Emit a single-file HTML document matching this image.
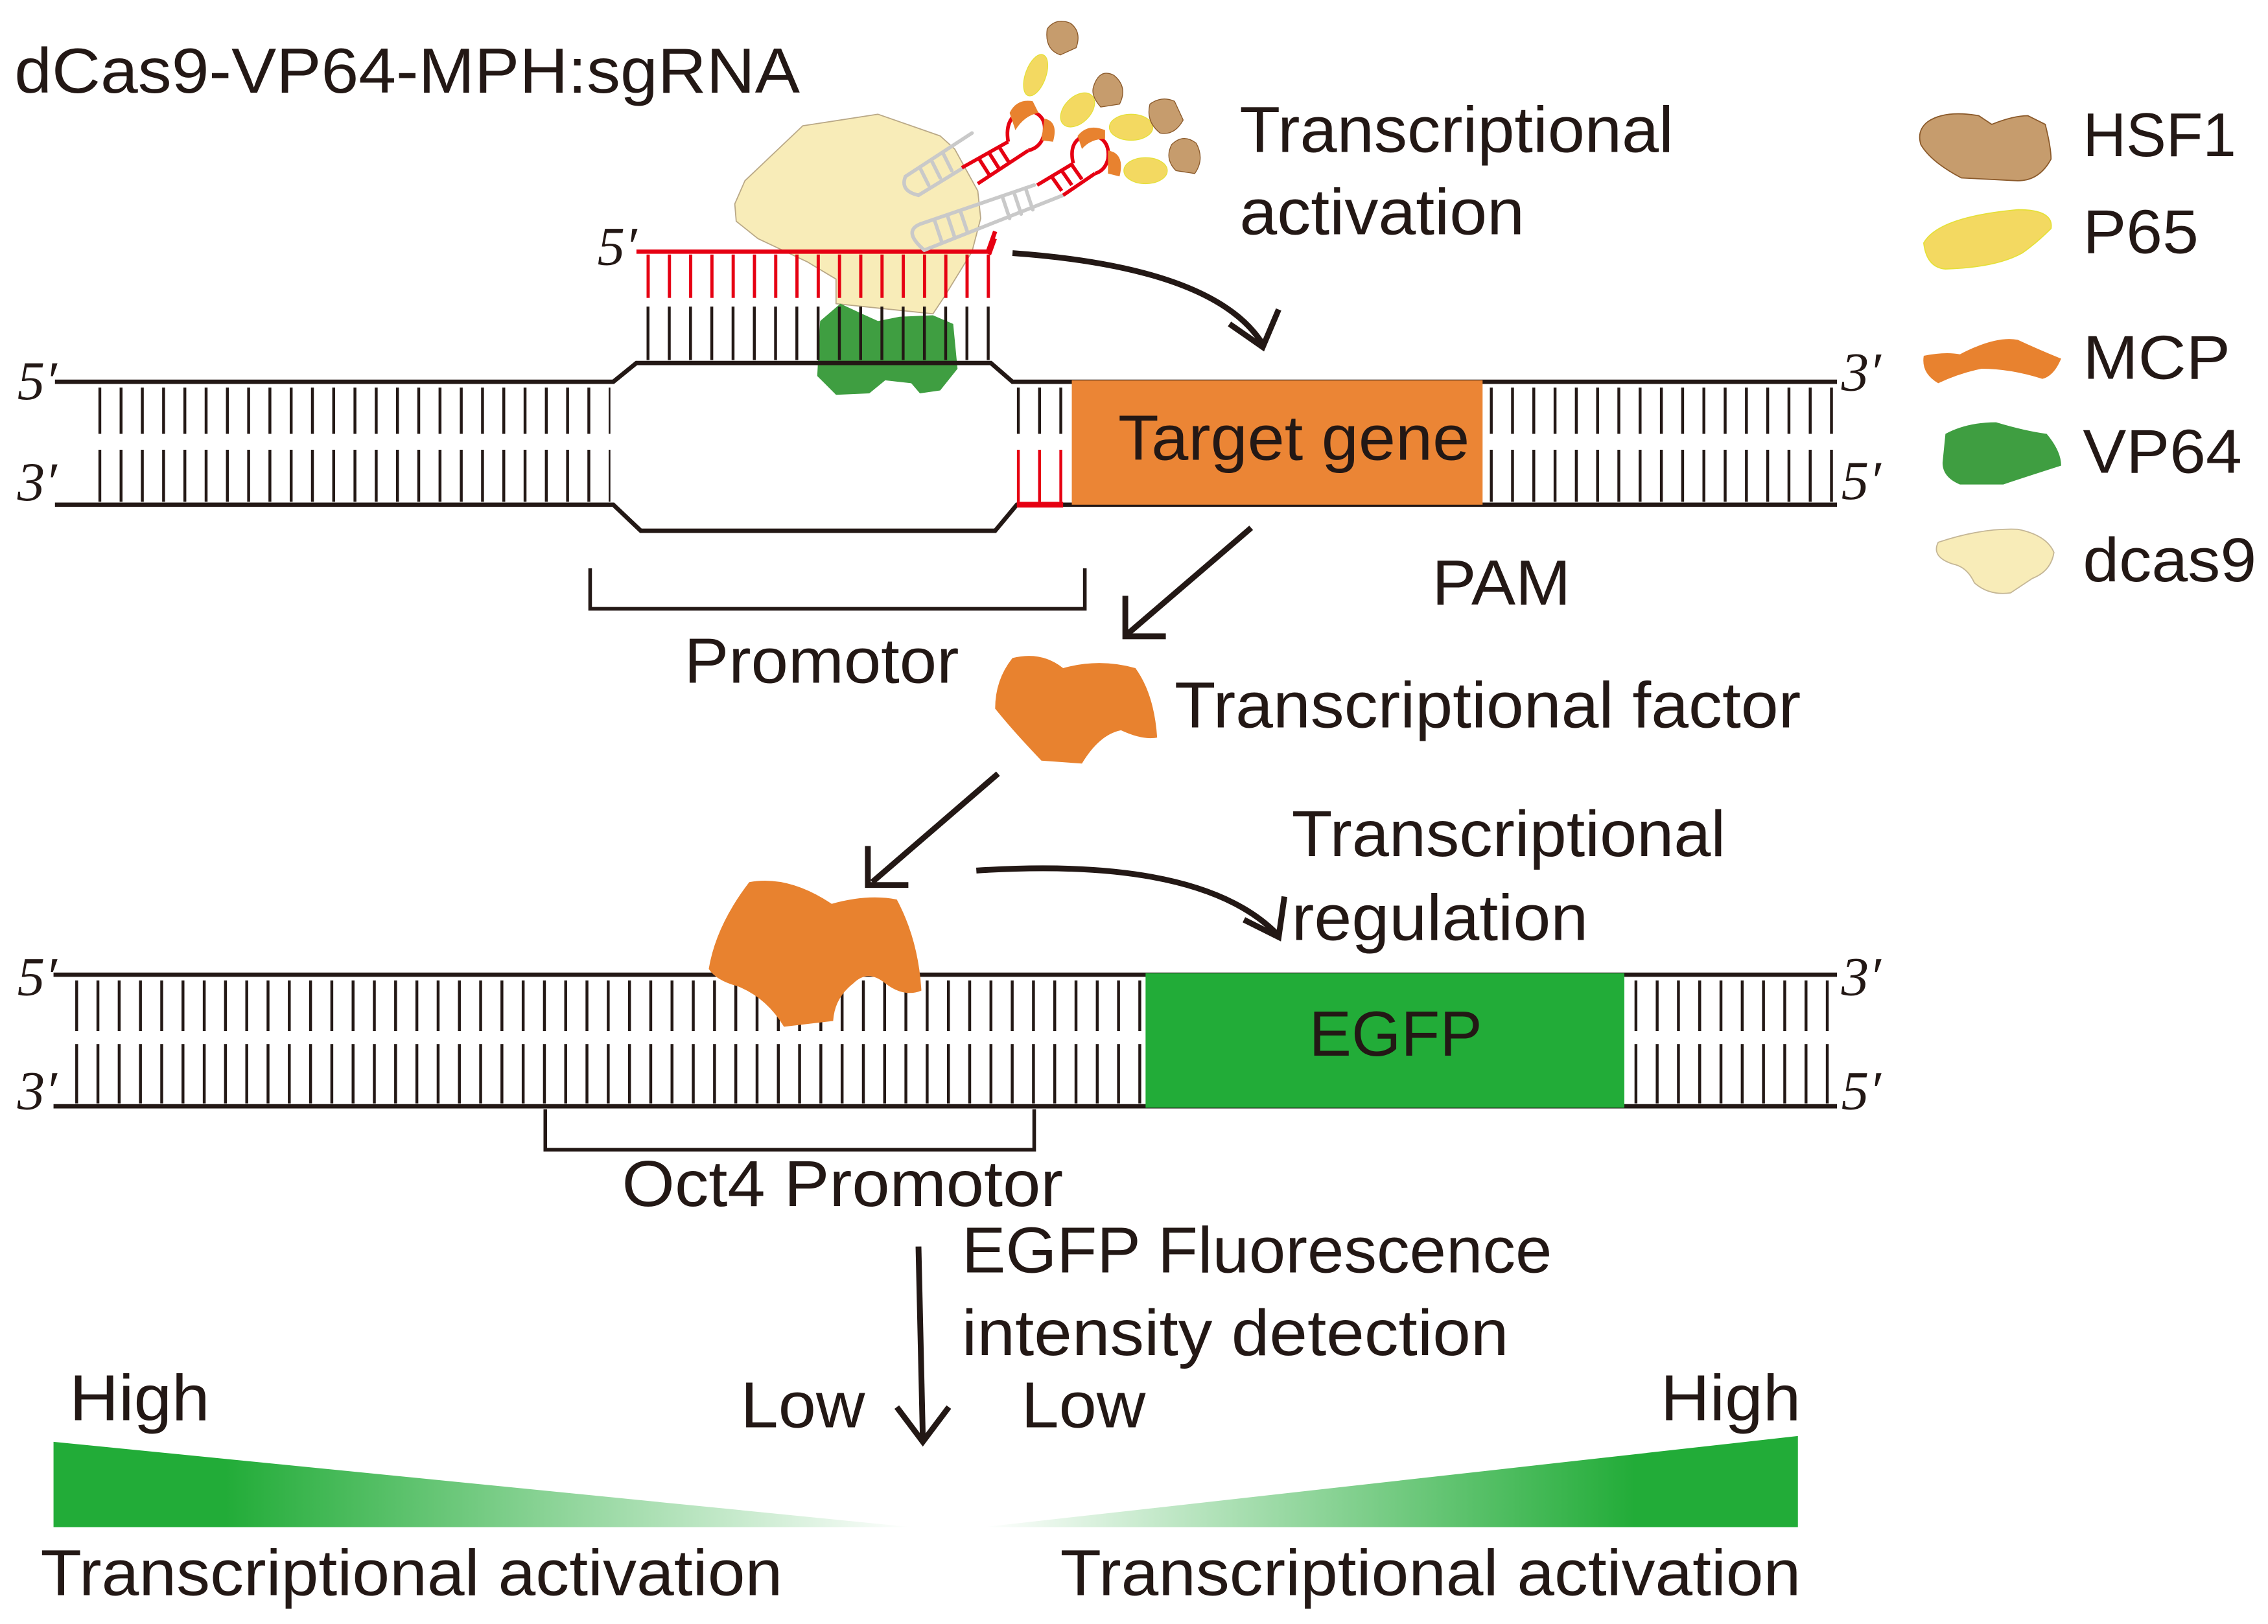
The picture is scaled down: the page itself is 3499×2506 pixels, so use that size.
<!DOCTYPE html>
<html><head><meta charset="utf-8"><style>
html,body{margin:0;padding:0;background:#fff}
svg{display:block}
text{font-family:"Liberation Sans",sans-serif;fill:#231815}
.s{font-family:"Liberation Serif",serif;font-style:italic}
</style></head><body>
<svg width="3499" height="2506" viewBox="0 0 1568 1123" xmlns="http://www.w3.org/2000/svg">
<defs>
<pattern id="rk" x="68" y="0" width="14.7" height="10" patternUnits="userSpaceOnUse"><rect x="0" y="0" width="2" height="10" fill="#231815"/></pattern>
<pattern id="rk2" x="447" y="0" width="14.7" height="10" patternUnits="userSpaceOnUse"><rect x="0" y="0" width="2" height="10" fill="#231815"/></pattern>
<pattern id="rr2" x="447" y="0" width="14.7" height="10" patternUnits="userSpaceOnUse"><rect x="0" y="0" width="2.2" height="10" fill="#e60012"/></pattern>
<pattern id="rs" x="703" y="0" width="14.7" height="10" patternUnits="userSpaceOnUse"><rect x="0" y="0" width="2" height="10" fill="#231815"/></pattern>
<pattern id="rsr" x="703" y="0" width="14.7" height="10" patternUnits="userSpaceOnUse"><rect x="0" y="0" width="2" height="10" fill="#e60012"/></pattern>
<pattern id="rr" x="1030" y="0" width="14.7" height="10" patternUnits="userSpaceOnUse"><rect x="0" y="0" width="2" height="10" fill="#231815"/></pattern>
<pattern id="rb" x="52" y="0" width="14.7" height="10" patternUnits="userSpaceOnUse"><rect x="0" y="0" width="2" height="10" fill="#231815"/></pattern>
<pattern id="rb2" x="1130" y="0" width="14.7" height="10" patternUnits="userSpaceOnUse"><rect x="0" y="0" width="2" height="10" fill="#231815"/></pattern>
<linearGradient id="gl" x1="0" x2="1" y1="0" y2="0"><stop offset="0" stop-color="#22ac38"/><stop offset="0.2" stop-color="#22ac38"/><stop offset="1" stop-color="#fff"/></linearGradient>
<linearGradient id="gr" x1="0" x2="1" y1="0" y2="0"><stop offset="0" stop-color="#fff"/><stop offset="0.8" stop-color="#22ac38"/><stop offset="1" stop-color="#22ac38"/></linearGradient>
</defs>

<!-- title -->
<text x="10" y="64" font-size="44" textLength="543" lengthAdjust="spacingAndGlyphs">dCas9-VP64-MPH:sgRNA</text>

<!-- dcas9 -->
<path d="M508,141 L515,125 L555,87 L607,79 L650,94 L660,103 L676,132 L678,151 L672,174 L653,205 L645,217 L578,210 L578,193 L558,181 L524,165 L509,153 Z" fill="#f8ecb8" stroke="#b9a887" stroke-width="0.8" stroke-linejoin="round"/>
<!-- VP64 -->
<path d="M567,222 L581,210 L596,217 L607,222 L622,219 L645,218 L659,224 L662,255 L650,270 L636,272 L630,265 L612,263 L601,272 L578,273 L565,260 Z" fill="#3f9e41" stroke-linejoin="round"/>

<!-- top DNA -->
<rect x="68" y="268" width="354" height="32" fill="url(#rk)"/>
<rect x="68" y="311" width="354" height="36" fill="url(#rk)"/>
<rect x="1030" y="268" width="240" height="32" fill="url(#rr)"/>
<rect x="1030" y="311" width="240" height="36" fill="url(#rr)"/>
<rect x="703" y="268" width="34" height="32" fill="url(#rs)"/>
<rect x="703" y="311" width="34" height="36" fill="url(#rsr)"/>
<rect x="447" y="212" width="240" height="37" fill="url(#rk2)"/>
<rect x="447" y="176" width="240" height="30" fill="url(#rr2)"/>
<polyline points="38,264 424,264 440,251 685,251 700,264 1270,264" fill="none" stroke="#231815" stroke-width="3"/>
<polyline points="38,349 424,349 443,367 688,367 703,349 1270,349" fill="none" stroke="#231815" stroke-width="3"/>
<line x1="703" y1="349" x2="735" y2="349" stroke="#e60012" stroke-width="4"/>
<polyline points="440,174 683,174 688,160" fill="none" stroke="#e60012" stroke-width="3"/>
<rect x="741" y="263" width="284" height="86" fill="#eb8535"/>
<text x="773" y="318" font-size="44" textLength="243" lengthAdjust="spacingAndGlyphs">Target gene</text>
<text class="s" x="12" y="276" font-size="38">5′</text>
<text class="s" x="12" y="346" font-size="38">3′</text>
<text class="s" x="413" y="183" font-size="38">5′</text>
<text class="s" x="1273" y="270" font-size="38">3′</text>
<text class="s" x="1273" y="345" font-size="38">5′</text>

<!-- sgRNA scaffolds -->
<g fill="none" stroke="#c9c9c9" stroke-width="2.5" stroke-linecap="round">
<path d="M672,92 L626,122 Q622,132 635,135 L666,116"/>
<line x1="636" y1="116" x2="642" y2="128"/><line x1="644" y1="111" x2="650" y2="123"/><line x1="652" y1="106" x2="658" y2="118"/>
<path d="M715,128 L636,155 Q624,160 639,173 L735,135"/>
<line x1="646" y1="152" x2="651" y2="167"/><line x1="655" y1="149" x2="660" y2="164"/><line x1="664" y1="146" x2="669" y2="161"/>
<line x1="693" y1="136" x2="698" y2="151"/><line x1="701" y1="133" x2="706" y2="148"/><line x1="709" y1="130" x2="714" y2="145"/>
</g>
<g fill="none" stroke="#e60012" stroke-width="2.5">
<path d="M665,116 L697,98 M676,127 L711,104"/>
<line x1="677" y1="110" x2="684" y2="121"/><line x1="684" y1="106" x2="691" y2="117"/><line x1="691" y1="102" x2="698" y2="113"/>
<path d="M697,98 Q694,80 709,76 Q724,78 722,92 Q720,102 711,104"/>
<path d="M717,128 L742,113 M735,135 L757,120"/>
<line x1="727" y1="122" x2="734" y2="132"/><line x1="734" y1="118" x2="741" y2="128"/><line x1="741" y1="114" x2="748" y2="124"/>
<path d="M742,113 Q738,96 753,93 Q768,95 766,110 Q764,118 757,120"/>
<path d="M688,165 L684,176"/>
</g>
<g fill="#e8822f">
<path d="M698,78 Q703,68 714,70 L718,78 Q708,80 702,90 Z"/>
<path d="M722,82 Q732,84 728,98 L720,97 Z"/>
<path d="M745,94 Q752,85 764,90 L764,96 Q754,96 748,103 Z"/>
<path d="M766,104 Q778,106 774,122 L766,120 Z"/>
</g>
<g fill="#f3d961" stroke="#e5e03a" stroke-width="0.6">
<ellipse cx="716" cy="52" rx="7" ry="15" transform="rotate(20 716 52)"/>
<ellipse cx="745" cy="76" rx="14" ry="9" transform="rotate(-45 745 76)"/>
<ellipse cx="782" cy="88" rx="15" ry="9"/>
<ellipse cx="792" cy="118" rx="15" ry="9"/>
</g>
<g fill="#c69c6d" stroke="#8b5a2b" stroke-width="0.6">
<path d="M724,20 Q730,12 740,16 Q748,22 744,33 L733,38 Q722,34 724,20 Z"/>
<path d="M756,60 Q760,47 770,52 Q780,60 774,72 L761,74 Q754,66 756,60 Z"/>
<path d="M795,72 Q803,66 812,70 L818,83 Q812,94 802,92 Q792,84 795,72 Z"/>
<path d="M810,100 Q818,92 827,99 Q833,110 826,120 L813,118 Q805,110 810,100 Z"/>
</g>

<!-- arrow 1 curved -->
<path d="M700,175 Q840,185 873,238" fill="none" stroke="#231815" stroke-width="4"/>
<polyline points="850,224 873,240 884,214" fill="none" stroke="#231815" stroke-width="4"/>
<text x="857" y="105" font-size="45" textLength="300" lengthAdjust="spacingAndGlyphs">Transcriptional</text>
<text x="857" y="162" font-size="45" textLength="197" lengthAdjust="spacingAndGlyphs">activation</text>

<!-- promotor bracket -->
<polyline points="408,393 408,421 750,421 750,393" fill="none" stroke="#231815" stroke-width="2.5"/>
<text x="473" y="472" font-size="44" textLength="190" lengthAdjust="spacingAndGlyphs">Promotor</text>
<text x="990" y="418" font-size="44" textLength="96" lengthAdjust="spacingAndGlyphs">PAM</text>

<!-- arrow 2 -->
<line x1="865" y1="365" x2="780" y2="438" stroke="#231815" stroke-width="4"/>
<polyline points="778,412 778,440 806,440" fill="none" stroke="#231815" stroke-width="4"/>
<!-- TF -->
<path d="M700,455 Q720,450 735,462 Q760,455 785,462 Q798,480 800,510 Q790,512 775,505 Q760,508 748,528 L720,526 Q700,505 688,490 Q688,470 700,455 Z" fill="#e8822f"/>
<text x="812" y="503" font-size="45" textLength="433" lengthAdjust="spacingAndGlyphs">Transcriptional factor</text>

<!-- arrow 3 -->
<line x1="690" y1="535" x2="603" y2="610" stroke="#231815" stroke-width="4"/>
<polyline points="600,585 600,612 628,612" fill="none" stroke="#231815" stroke-width="4"/>
<!-- curve arrow 4 -->
<path d="M675,602 Q830,592 883,646" fill="none" stroke="#231815" stroke-width="4"/>
<polyline points="860,636 884,648 888,620" fill="none" stroke="#231815" stroke-width="4"/>
<text x="893" y="592" font-size="45" textLength="300" lengthAdjust="spacingAndGlyphs">Transcriptional</text>
<text x="893" y="650" font-size="45" textLength="205" lengthAdjust="spacingAndGlyphs">regulation</text>

<!-- bottom DNA -->
<rect x="52" y="678" width="740" height="35" fill="url(#rb)"/>
<rect x="52" y="722" width="740" height="41" fill="url(#rb)"/>
<rect x="1130" y="678" width="140" height="35" fill="url(#rb2)"/>
<rect x="1130" y="722" width="140" height="41" fill="url(#rb2)"/>
<line x1="37" y1="674" x2="1270" y2="674" stroke="#231815" stroke-width="3"/>
<line x1="37" y1="765" x2="1270" y2="765" stroke="#231815" stroke-width="3"/>
<rect x="792" y="673" width="331" height="93" fill="#22ac38"/>
<text x="905" y="730" font-size="44">EGFP</text>
<text class="s" x="12" y="688" font-size="38">5′</text>
<text class="s" x="12" y="767" font-size="38">3′</text>
<text class="s" x="1273" y="688" font-size="38">3′</text>
<text class="s" x="1273" y="767" font-size="38">5′</text>
<!-- big TF -->
<path d="M518,610 Q545,605 575,625 Q600,618 620,622 Q635,650 637,685 Q625,690 612,680 Q600,670 590,680 Q577,690 576,706 L542,710 Q530,690 510,682 Q495,678 490,670 Q495,640 518,610 Z" fill="#e8822f"/>
<polyline points="377,767 377,795 715,795 715,767" fill="none" stroke="#231815" stroke-width="2.5"/>
<text x="430" y="834" font-size="45" textLength="305" lengthAdjust="spacingAndGlyphs">Oct4 Promotor</text>

<!-- down arrow -->
<line x1="635" y1="862" x2="638" y2="995" stroke="#231815" stroke-width="4"/>
<polyline points="620,973 638,997 656,973" fill="none" stroke="#231815" stroke-width="4"/>
<text x="665" y="880" font-size="45" textLength="408" lengthAdjust="spacingAndGlyphs">EGFP Fluorescence</text>
<text x="665" y="937" font-size="45" textLength="378" lengthAdjust="spacingAndGlyphs">intensity detection</text>

<text x="48" y="982" font-size="45" textLength="97" lengthAdjust="spacingAndGlyphs">High</text>
<text x="512" y="987" font-size="45" textLength="86" lengthAdjust="spacingAndGlyphs">Low</text>
<text x="706" y="987" font-size="45" textLength="86" lengthAdjust="spacingAndGlyphs">Low</text>
<text x="1148" y="982" font-size="45" textLength="97" lengthAdjust="spacingAndGlyphs">High</text>
<polygon points="37,997 630,1056 37,1056" fill="url(#gl)"/>
<polygon points="680,1056 1243,993 1243,1056" fill="url(#gr)"/>
<text x="28" y="1103" font-size="45" textLength="513" lengthAdjust="spacingAndGlyphs">Transcriptional activation</text>
<text x="733" y="1103" font-size="45" textLength="512" lengthAdjust="spacingAndGlyphs">Transcriptional activation</text>

<!-- legend -->
<path d="M1333,84 Q1345,76 1368,80 L1377,86 Q1392,80 1402,80 L1414,86 Q1418,102 1418,110 Q1410,125 1395,125 L1356,123 Q1335,112 1328,100 Q1325,90 1333,84 Z" fill="#c69c6d" stroke="#8b5a2b" stroke-width="0.8"/>
<path d="M1330,168 Q1340,150 1395,145 Q1420,145 1418,158 Q1408,168 1398,175 Q1380,185 1345,186 Q1332,185 1330,168 Z" fill="#f3d961" stroke="#e5e03a" stroke-width="0.8"/>
<path d="M1330,246 Q1345,243 1355,245 Q1380,232 1395,235 Q1410,242 1425,248 Q1420,260 1412,262 Q1390,255 1370,255 Q1355,258 1340,265 Q1328,258 1330,246 Z" fill="#e8822f"/>
<path d="M1345,300 Q1360,292 1380,292 Q1400,298 1415,300 Q1425,312 1425,322 Q1400,330 1385,335 L1355,335 Q1343,330 1343,320 Z" fill="#3f9e41"/>
<path d="M1340,375 Q1370,365 1395,366 Q1415,370 1420,382 Q1418,395 1405,400 L1390,410 Q1375,412 1365,403 Q1360,392 1350,390 Q1335,385 1340,375 Z" fill="#f8ecb8" stroke="#c4b696" stroke-width="0.8"/>
<text x="1440" y="108" font-size="43" textLength="106" lengthAdjust="spacingAndGlyphs">HSF1</text>
<text x="1440" y="175" font-size="43" textLength="80" lengthAdjust="spacingAndGlyphs">P65</text>
<text x="1440" y="262" font-size="43" textLength="102" lengthAdjust="spacingAndGlyphs">MCP</text>
<text x="1440" y="327" font-size="43" textLength="110" lengthAdjust="spacingAndGlyphs">VP64</text>
<text x="1440" y="402" font-size="43" textLength="120" lengthAdjust="spacingAndGlyphs">dcas9</text>
</svg>
</body></html>
